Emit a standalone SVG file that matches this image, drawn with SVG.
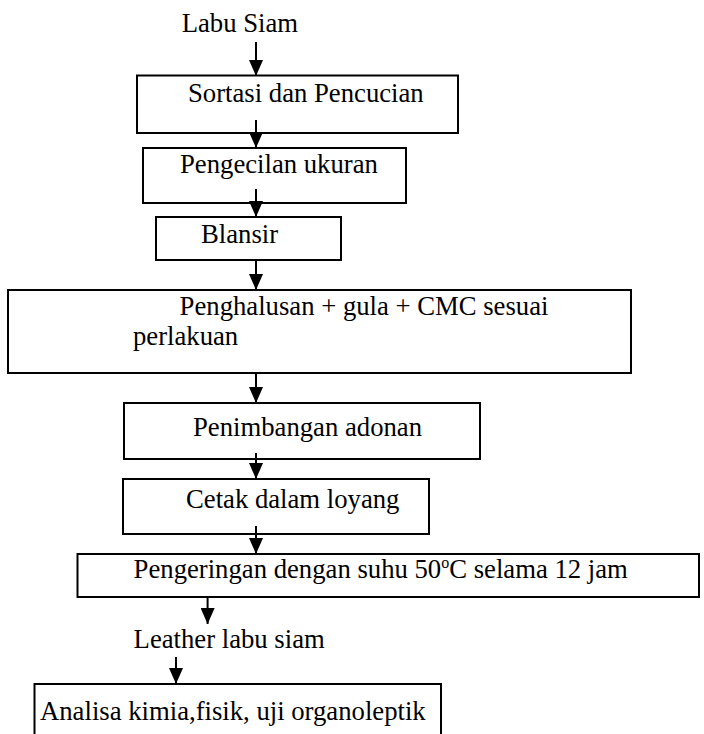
<svg xmlns="http://www.w3.org/2000/svg" width="704" height="734" viewBox="0 0 704 734">
  <defs>
    <marker id="ah" markerUnits="userSpaceOnUse" markerWidth="16" markerHeight="14" refX="16" refY="7" orient="auto" viewBox="0 0 16 14">
      <path d="M0,0 L16,7 L0,14 z" fill="#000"/>
    </marker>
    <style>
      .box { fill: #fff; stroke: #000; stroke-width: 2; }
      .lbl { font-family: 'Liberation Serif', 'Times New Roman', serif; font-size: 26.7px; fill: #000; }
      .arr { stroke: #000; stroke-width: 2; fill: none; marker-end: url(#ah); }
    </style>
  </defs>
  <rect width="704" height="734" fill="#fff"/>

  <g id="n0">
    <text class="lbl" x="181.7" y="32">Labu Siam</text>
  </g>
  <g id="n1">
    <rect class="box" x="137" y="75.5" width="321" height="57.5"/>
    <text class="lbl" x="188" y="102">Sortasi dan Pencucian</text>
  </g>
  <g id="n2">
    <rect class="box" x="143" y="148" width="263" height="55"/>
    <text class="lbl" x="180" y="173">Pengecilan ukuran</text>
  </g>
  <g id="n3">
    <rect class="box" x="156" y="217" width="185" height="43"/>
    <text class="lbl" x="201" y="243">Blansir</text>
  </g>
  <g id="n4">
    <rect class="box" x="8" y="290" width="623" height="83"/>
    <text class="lbl" x="179.6" y="315">Penghalusan + gula + CMC sesuai</text>
    <text class="lbl" x="133" y="345">perlakuan</text>
  </g>
  <g id="n5">
    <rect class="box" x="124" y="403" width="356" height="56"/>
    <text class="lbl" x="193" y="436">Penimbangan adonan</text>
  </g>
  <g id="n6">
    <rect class="box" x="123" y="479" width="306" height="55"/>
    <text class="lbl" x="186" y="508">Cetak dalam loyang</text>
  </g>
  <g id="n7">
    <rect class="box" x="77.5" y="554" width="621.5" height="43"/>
    <text class="lbl" x="133.6" y="578">Pengeringan dengan suhu 50<tspan font-size="16" dy="-10">o</tspan><tspan dy="10">C selama 12 jam</tspan></text>
  </g>
  <g id="n8">
    <text class="lbl" x="133.6" y="648">Leather labu siam</text>
  </g>
  <g id="n9">
    <rect class="box" x="34.5" y="684" width="406.5" height="60"/>
    <text class="lbl" x="40" y="720">Analisa kimia,fisik, uji organoleptik</text>
  </g>

  <g id="connectors">
    <line class="arr" x1="256" y1="42" x2="256" y2="76"/>
    <line class="arr" x1="256" y1="120" x2="256" y2="148"/>
    <line class="arr" x1="256" y1="189" x2="256" y2="217"/>
    <line class="arr" x1="256" y1="260" x2="256" y2="290"/>
    <line class="arr" x1="256" y1="373" x2="256" y2="403"/>
    <line class="arr" x1="256" y1="453" x2="256" y2="479"/>
    <line class="arr" x1="256" y1="526" x2="256" y2="554"/>
    <line class="arr" x1="207.6" y1="597" x2="207.6" y2="624"/>
    <line class="arr" x1="176" y1="657" x2="176" y2="684"/>
  </g>
</svg>
